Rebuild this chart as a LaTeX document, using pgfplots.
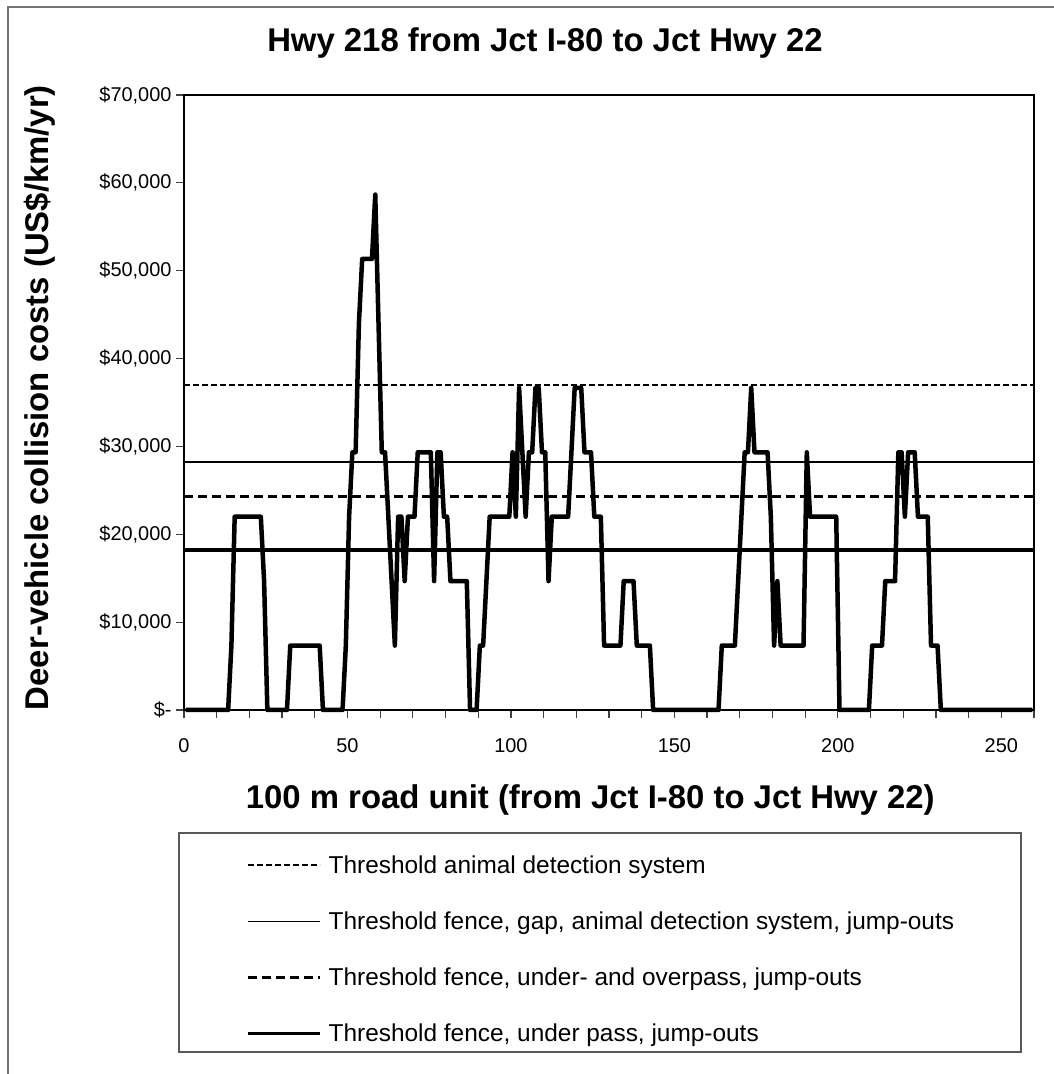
\documentclass[border=0pt]{standalone}
\usepackage{fontspec}
\setmainfont{Liberation Sans}
\usepackage{pgfplots}
\pgfplotsset{compat=1.18}
\usepackage{pgfplotstable}

\pgfplotstableread{
x y
0.5 0
13.5 0
14.5 7333
15.5 22000
23.5 22000
24.5 14667
25.5 0
31.5 0
32.5 7333
41.5 7333
42.5 0
48.5 0
49.5 7333
50.5 22000
51.5 29333
52.5 29333
53.5 44000
54.5 51333
57.5 51333
58.5 58667
59.5 44000
60.5 29333
61.5 29333
62.5 22000
63.5 14667
64.5 7333
65.5 22000
66.5 22000
67.5 14667
68.5 22000
70.5 22000
71.5 29333
75.5 29333
76.5 14667
77.5 29333
78.5 29333
79.5 22000
80.5 22000
81.5 14667
86.5 14667
87.5 0
89.5 0
90.5 7333
91.5 7333
92.5 14667
93.5 22000
99.5 22000
100.5 29333
101.5 22000
102.5 36667
103.5 29333
104.5 22000
105.5 29333
106.5 29333
107.5 36667
108.5 36667
109.5 29333
110.5 29333
111.5 14667
112.5 22000
117.5 22000
118.5 29333
119.5 36667
121.5 36667
122.5 29333
124.5 29333
125.5 22000
127.5 22000
128.5 7333
133.5 7333
134.5 14667
137.5 14667
138.5 7333
142.5 7333
143.5 0
163.5 0
164.5 7333
168.5 7333
169.5 14667
170.5 22000
171.5 29333
172.5 29333
173.5 36667
174.5 29333
178.5 29333
179.5 22000
180.5 7333
181.5 14667
182.5 7333
189.5 7333
190.5 29333
191.5 22000
199.5 22000
200.5 0
209.5 0
210.5 7333
213.5 7333
214.5 14667
217.5 14667
218.5 29333
219.5 29333
220.5 22000
221.5 29333
223.5 29333
224.5 22000
227.5 22000
228.5 7333
230.5 7333
231.5 0
259.5 0
}\costdata

\begin{document}
\begin{tikzpicture}[x=1bp,y=1bp]
\useasboundingbox (0,0) rectangle (1054,1074);
\draw[black!55, line width=1.5bp] (8,0) -- (8,1067) -- (1054,1067);
\draw[black!65, line width=1.5bp] (179,22) rectangle (1021,241);
\begin{axis}[
  at={(184bp,364bp)}, anchor=south west,
  width=850bp, height=615bp, scale only axis,
  xmin=0, xmax=260, ymin=0, ymax=70000,
  scaled y ticks=false, scaled x ticks=false,
  clip=false,
  axis line style={black, line width=2bp},
  xtick={0,50,...,250}, xticklabels={0,50,100,150,200,250},
  minor xtick={0,10,...,260},
  ytick={0,10000,...,70000},
  yticklabels={{\$-\hspace{10bp}},{\$10,000},{\$20,000},{\$30,000},{\$40,000},{\$50,000},{\$60,000},{\$70,000}},
  xtick pos=bottom, ytick pos=left,
  tick align=outside, major tick length=8bp, minor tick length=8bp,
  every tick/.style={black!75, line width=1.2bp},
  ticklabel style={font=\fontsize{20}{24}\selectfont},
  xticklabel style={yshift=-17bp},
  yticklabel style={xshift=-1bp},
  title={Hwy 218 from Jct I-80 to Jct Hwy 22},
  title style={at={(axis description cs:0.4247,1.0748)}, anchor=center, font=\bfseries\fontsize{33}{39}\selectfont},
  xlabel={100 m road unit (from Jct I-80 to Jct Hwy 22)},
  xlabel style={at={(axis description cs:0.478,-0.1463)}, anchor=center, font=\bfseries\fontsize{33}{39}\selectfont},
  ylabel={Deer-vehicle collision costs (US\$/km/yr)},
  ylabel style={at={(axis description cs:-0.1694,0.508)}, anchor=center, font=\bfseries\fontsize{33}{39}\selectfont},
  legend cell align=left,
  legend image code/.code={\draw[#1] (0bp,0bp) -- (72bp,0bp);},
  legend style={draw=none, fill=none, at={(axis description cs:0.0694,-0.230)}, anchor=north west,
    row sep=33bp, column sep=5bp,
    font=\fontsize{24.5}{29}\selectfont},
]
\addplot[black, line width=1.5bp, dash pattern=on 6bp off 3bp] coordinates {(0,37000) (260,37000)};
\addlegendentry{Threshold animal detection system}
\addplot[black, line width=1.7bp] coordinates {(0,28250) (260,28250)};
\addlegendentry{Threshold fence, gap, animal detection system, jump-outs}
\addplot[black, line width=3.5bp, dash pattern=on 9bp off 5bp] coordinates {(0,24300) (260,24300)};
\addlegendentry{Threshold fence, under- and overpass, jump-outs}
\addplot[black, line width=3.4bp] coordinates {(0,18200) (260,18200)};
\addlegendentry{Threshold fence, under pass, jump-outs}
\addplot[black, line width=4.5bp, line join=round, forget plot] table {\costdata};
\end{axis}
\end{tikzpicture}
\end{document}
